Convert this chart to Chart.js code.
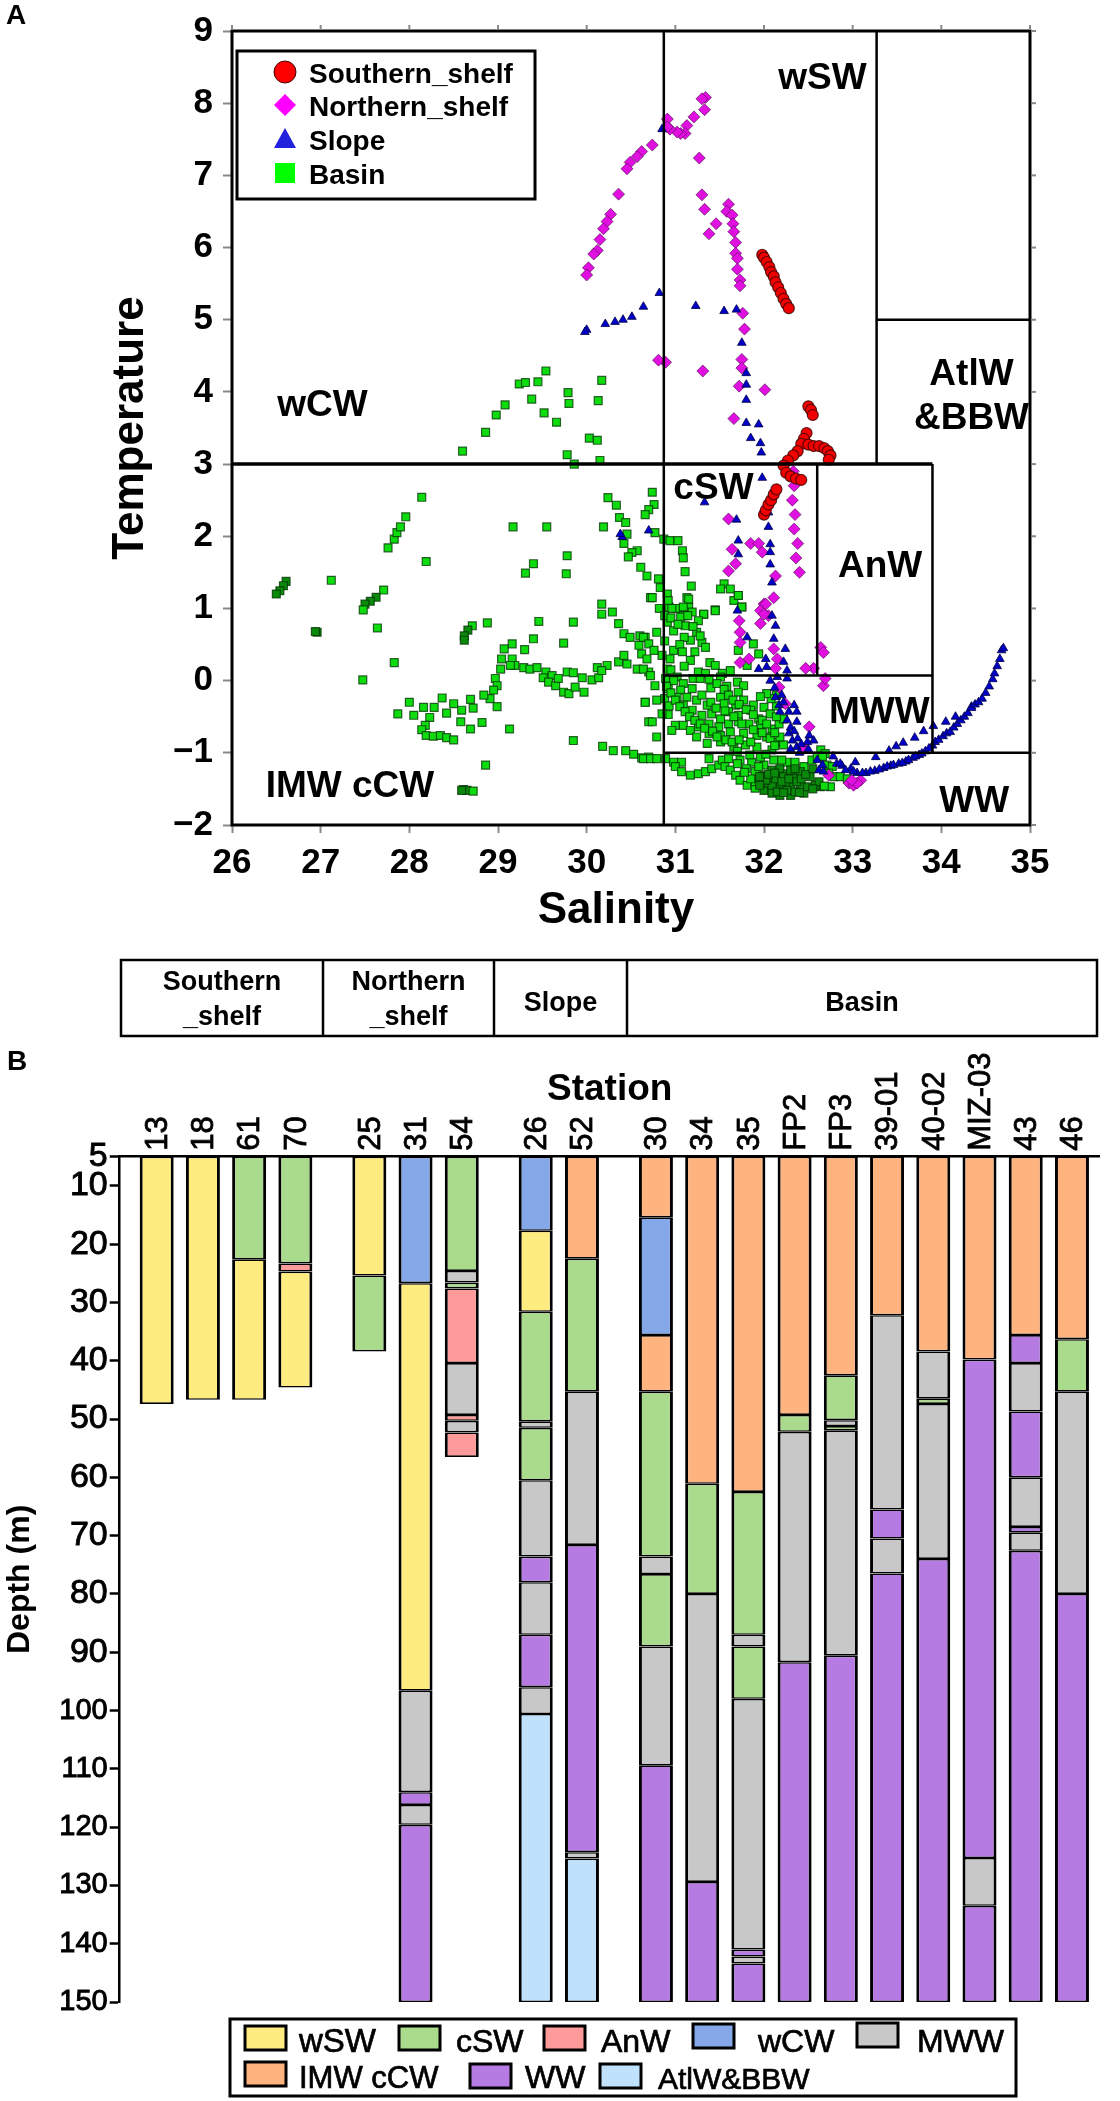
<!DOCTYPE html>
<html><head><meta charset="utf-8">
<script src="https://cdn.jsdelivr.net/npm/chart.js@4"></script>
<style>html,body{margin:0;padding:0;background:#fff}canvas{position:absolute;left:0}#c1{top:0}#c2{top:945px}</style>
</head><body>
<canvas id="c1" width="1120" height="945"></canvas>
<canvas id="c2" width="1120" height="1156"></canvas>
<script>
// ---------- Panel A : T-S data, [salinity, temperature] ----------
const southernShelf=[[31.98,5.9],[32.0,5.86],[32.03,5.8],[32.06,5.73],[32.08,5.66],[32.11,5.6],[32.13,5.52],[32.16,5.45],[32.19,5.37],[32.22,5.29],[32.25,5.22],[32.28,5.16],
[32.5,3.8],[32.53,3.75],[32.55,3.68],[32.48,3.43],[32.45,3.35],[32.42,3.28],[32.38,3.18],[32.33,3.12],[32.27,3.05],[32.22,2.98],
[32.5,3.27],[32.56,3.25],[32.62,3.25],[32.68,3.22],[32.72,3.18],[32.75,3.12],[32.73,3.06],[32.25,2.88],[32.3,2.83],[32.36,2.8],[32.42,2.78],
[32.0,2.3],[32.02,2.36],[32.05,2.44],[32.08,2.5],[32.11,2.58],[32.14,2.65]];
const northernShelf=[[31.34,8.08],[31.30,8.06],[31.33,7.91],[31.21,7.81],[31.13,7.69],[31.11,7.58],[31.06,7.58],[31.02,7.60],[30.94,7.64],[30.91,7.78],[30.91,7.67],
[30.74,7.42],[30.62,7.33],[30.57,7.26],[30.49,7.18],[30.455,7.09],[30.36,6.74],[30.27,6.46],[30.23,6.36],[30.19,6.26],[30.15,6.11],[30.12,5.96],[30.08,5.91],[30.02,5.72],[30.0,5.62],
[31.27,7.24],[31.30,6.73],[31.33,6.53],[31.46,6.33],[31.38,6.19],[31.60,6.6],[31.58,6.5],[31.64,6.45],[31.65,6.33],[31.66,6.22],[31.68,6.07],[31.68,5.92],[31.70,5.85],[31.70,5.70],[31.73,5.55],[31.73,5.47],[31.76,5.09],[31.78,4.87],
[31.75,4.45],[30.89,4.41],[30.81,4.44],[31.31,4.29],[31.75,4.33],[31.72,4.08],[32.01,4.03],[31.66,3.63],
[32.33,2.9],[32.34,2.7],[32.32,2.5],[32.35,2.3],[32.34,2.1],[32.38,1.9],[32.36,1.7],[32.4,1.5],
[31.60,2.24],[31.64,1.82],[31.60,1.52],[31.68,1.62],[31.85,1.90],[31.94,1.90],[31.98,1.78],[32.13,1.45],[32.11,1.15],[32.0,1.06],[31.96,0.97],[32.05,0.9],
[32.02,1.06],[32.0,0.92],[31.96,0.79],[31.72,0.83],[31.73,0.67],[31.73,0.53],[32.11,0.44],[32.15,0.30],[32.13,0.17],[31.83,0.30],[31.73,0.25],
[32.64,0.46],[32.67,0.39],[32.56,0.17],[32.47,0.17],[32.67,-0.07],[32.69,0.03],[32.17,-0.09],[32.24,-0.32],[32.51,-0.64],[32.45,-0.94],[32.73,-1.31],[32.96,-1.42],[33.01,-1.45],[33.09,-1.38],[33.05,-1.42],[32.99,-1.38]];
const slope=[[30.82,5.37],[30.64,5.18],[30.51,5.04],[30.41,5.0],[30.32,4.97],[30.21,4.94],[30.0,4.86],[29.98,4.83],[31.23,5.19],[31.55,5.12],[31.69,5.14],[30.85,7.64],
[31.75,4.68],[31.80,4.26],[31.80,4.10],[31.80,3.89],[31.80,3.57],[31.94,3.55],[31.85,3.36],[31.96,3.29],[31.97,3.16],[31.98,2.81],[31.33,2.47],[31.69,2.23],[32.05,2.33],[32.05,2.13],[31.71,1.94],[32.07,1.89],[32.07,1.78],[31.71,1.75],[32.07,1.61],[32.09,1.36],[30.70,2.08],[30.40,1.99],[30.38,2.03],
[31.70,0.97],[32.09,0.90],[32.13,0.76],[32.11,0.58],[31.81,0.60],[32.24,0.44],[32.02,0.30],[32.22,0.26],[32.26,0.14],[32.03,0.19],[31.94,0.16],[32.15,0.05],[32.26,0.03],[32.07,0],[32.13,-0.23],[32.17,-0.34],[32.18,-0.43],[32.34,-0.34],[32.37,-0.43],[32.28,-0.43],[32.37,-0.57],[32.28,-0.73],[32.32,-0.83],[32.37,-0.92],[32.51,-0.76],[32.56,-0.83],[32.49,-0.85],[32.66,-1.17],[32.62,-1.24],[32.67,-1.26],
[32.12,-0.1],[32.2,-0.2],[32.22,-0.3],[32.26,-0.55],[32.3,-0.65],[32.34,-0.7],[32.38,-0.8],[32.42,-0.88],[32.3,-0.95],[32.4,-1.0],[32.5,-0.95],[32.6,-1.1],[32.78,-1.05],[32.82,-1.15],[32.88,-1.18],[32.98,-1.22],[33.05,-1.28],[33.15,-1.28],[33.25,-1.25],[33.35,-1.21],[33.43,-1.18],[33.52,-1.15],[33.6,-1.12],[33.68,-1.07],[33.75,-1.03],[33.82,-0.98],[33.9,-0.9],
[32.86,-1.15],[32.92,-1.24],[33.01,-1.26],[33.03,-1.13],[33.26,-1.06],[33.41,-0.97],[33.49,-0.91],[33.57,-0.86],[33.70,-0.79],[33.80,-0.70],[33.91,-0.63],[34.05,-0.57],[34.16,-0.50],[34.34,-0.36],
[33.11,-1.28],[33.20,-1.26],[33.30,-1.23],[33.39,-1.19],[33.46,-1.17],[33.56,-1.14],[33.63,-1.10],[33.71,-1.05],[33.78,-1.01],[33.86,-0.94],[33.93,-0.85],[33.97,-0.82],[34.02,-0.77],[34.06,-0.73],[34.10,-0.71],[34.14,-0.65],[34.18,-0.6],[34.22,-0.55],[34.26,-0.50],[34.3,-0.45],[34.34,-0.38],[34.38,-0.33],[34.42,-0.30],[34.46,-0.25],[34.5,-0.17],[34.54,-0.08],[34.58,0.02],[34.6,0.1],[34.63,0.2],[34.66,0.3],[34.68,0.42],[34.7,0.45]];
const basin=[[26.61,1.375],[26.58,1.315],[26.54,1.245],[26.50,1.20],[27.12,1.39],[27.71,1.255],[27.625,1.155],[27.56,1.10],[27.50,1.06],[27.48,0.98],[28.19,1.65],[27.76,1.84],[27.83,1.96],[27.86,2.05],[27.90,2.13],[27.96,2.27],[28.14,2.54],[28.60,3.18],[28.86,3.44],[28.98,3.68],
[29.08,3.82],[29.24,4.11],[29.31,4.13],[29.45,4.14],[29.54,4.29],[29.38,3.90],[29.79,3.99],[29.80,3.84],[29.52,3.71],[29.66,3.58],[30.17,4.16],[30.13,3.88],[30.03,3.36],[30.12,3.33],[29.78,3.13],[29.86,3.0],[30.15,3.05],
[30.74,2.61],[30.24,2.535],[30.335,2.43],[30.76,2.44],[30.70,2.37],[30.66,2.30],[30.37,2.26],[30.44,2.19],[29.17,2.13],[29.55,2.13],[30.19,2.13],[30.455,2.03],[30.42,1.90],[30.77,2.05],[30.87,1.96],[30.94,1.94],[31.03,1.94],[31.08,1.80],[31.09,1.70],[30.57,1.80],[30.51,1.775],[30.47,1.715],[29.78,1.73],[29.40,1.62],[29.31,1.49],[29.77,1.48],[30.61,1.57],[30.68,1.45],[31.11,1.51],[30.81,1.41],[30.83,1.29],[31.18,1.31],[30.72,1.15],[30.91,1.2],[31.13,1.15],[31.55,1.34],[31.51,1.27],[31.62,1.27],[31.71,1.18],[31.66,1.11],[31.75,1.02],[30.93,1.02],[31.02,1.0],[31.15,1.02],[31.45,0.98],[31.32,0.92],[30.17,1.06],[30.17,0.92],[30.29,0.95],[31.09,0.90],
[26.96,0.67],[26.94,0.68],[27.64,0.73],[27.83,0.25],[27.475,0.01],[28.71,0.76],[28.66,0.70],[28.62,0.62],[28.62,0.56],[28.88,0.80],[29.46,0.82],[29.85,0.81],[29.40,0.58],[29.74,0.52],[29.30,0.43],[29.16,0.51],[29.07,0.44],[29.04,0.30],[29.16,0.30],[29.19,0.21],[29.14,0.21],[29.03,0.16],[28.97,0.03],[28.99,-0.07],[28.95,-0.13],[28.91,-0.25],[28.84,-0.20],[28.99,-0.36],[29.29,0.18],[29.36,0.16],[29.44,0.18],[29.54,0.12],[29.51,0.04],[29.61,0.07],[29.57,-0.02],[29.65,-0.07],[29.68,0.03],[29.74,-0.16],[29.80,-0.18],[29.87,-0.09],[29.97,-0.16],[29.78,0.12],[29.85,0.11],[29.95,0.04],[30.06,0.01],[30.135,0.04],[30.12,0.18],[30.23,0.21],[30.17,0.14],[30.36,0.26],[30.42,0.35],[30.455,0.23],[30.57,0.16],[30.70,0.12],[30.42,0.65],[30.49,0.60],[30.60,0.62],[30.66,0.60],[30.59,0.49],[30.62,0.37],[30.36,0.79],[30.66,-0.30],[30.70,-0.57],
[27.87,-0.46],[28.0,-0.30],[28.05,-0.48],[28.16,-0.37],[28.28,-0.37],[28.23,-0.51],[28.37,-0.24],[28.42,-0.45],[28.50,-0.32],[28.59,-0.41],[28.69,-0.26],[28.72,-0.38],[28.82,-0.58],[28.58,-0.57],[28.69,-0.67],[29.13,-0.67],[28.18,-0.62],[28.14,-0.68],[28.19,-0.76],[28.27,-0.77],[28.35,-0.76],[28.42,-0.79],[28.50,-0.82],
[29.85,-0.83],[30.18,-0.91],[30.30,-0.97],[30.44,-0.97],[30.53,-1.02],[30.62,-1.07],[30.70,-1.06],[28.86,-1.17],[28.61,-1.51],[28.65,-1.52],[28.72,-1.53],[28.59,-1.52],
[30.74,1.15],[30.92,1.11],[31.15,1.13],[30.96,1.0],[31.09,1.02],[31.19,0.95],[31.06,0.88],[31.32,0.92],[31.45,0.97],[31.26,0.83],[30.91,0.81],[31.11,0.76],[31.24,0.67],[30.98,0.69],[31.17,0.56],[31.30,0.53],[31.34,0.46],[30.98,0.42],[30.94,0.30],[30.91,0.16],[31.17,0.28],[31.39,0.25],[31.45,0.21],[31.26,0.12],[31.34,0.10],[31.62,0.14],[31.53,0.10],[31.71,1.18],[31.75,1.02],[31.71,0.42],[31.88,0.51],[31.94,0.37],[31.81,0.21],
[30.82,1.0],[30.88,0.9],[30.95,0.87],[31.03,0.78],[31.14,0.9],[31.2,0.75],[31.28,0.62],[31.1,0.6],[31.05,0.5],[30.88,0.55],[30.85,0.35],[30.95,0.15],[31.08,0.4],[31.22,0.4],[31.1,0.2],[31.02,0.05],[31.2,0.03],[31.4,-0.1],[31.38,0.02],[31.58,-0.08],[30.88,-0.25],[30.93,-0.35],
[30.64,0.60],[30.70,0.51],[30.76,0.42],[30.68,0.30],[30.79,0.67],[30.64,0.16],[30.72,0.07],[30.77,-0.07],[30.66,-0.30],[30.79,-0.27],[30.74,-0.57],[30.79,-0.78],[30.92,-0.47],[30.85,-0.46],
[30.89,0.03],[30.98,0],[31.09,-0.04],[30.92,-0.11],[31.06,-0.13],[31.19,-0.11],[31.28,0.03],[31.51,0.05],[31.70,-0.02],[31.77,-0.07],[31.71,-0.16],[31.47,-0.04],[31.02,-0.23],[31.13,-0.23],[31.24,-0.27],[31.36,-0.34],[31.51,-0.23],[31.55,-0.32],[31.68,-0.34],[31.77,-0.27],[31.88,-0.34],[32.0,-0.37],[31.09,-0.34],[31.19,-0.41],[31.30,-0.48],[31.41,-0.46],[31.51,-0.53],[31.60,-0.43],[31.71,-0.48],[31.85,-0.41],[31.94,-0.53],[32.07,-0.46],[31.38,-0.60],[31.49,-0.64],[31.60,-0.60],[31.71,-0.57],[31.83,-0.60],[31.96,-0.62],[32.09,-0.67],[32.17,-0.60],[31.26,-0.64],[31.38,-0.73],[31.51,-0.76],[31.62,-0.71],[31.77,-0.73],[31.92,-0.76],[32.03,-0.78],[32.15,-0.85],[32.22,-0.89],[31.66,-0.92],[31.79,-0.89],[31.92,-0.92],[32.09,-0.96],[31.0,-0.62],[31.09,-0.62],[30.96,-0.69],[31.17,-0.69],[31.24,-0.78],[31.36,-0.87],[31.51,-0.85],[32.22,-0.53],[32.18,-0.78],
[30.9,-0.08],[30.95,-0.17],[31.0,-0.27],[31.05,-0.36],[31.11,-0.43],[31.16,-0.5],[31.22,-0.55],[31.28,-0.6],[31.33,-0.66],[31.42,-0.7],[31.47,-0.78],[31.57,-0.82],[31.64,-0.85],[31.72,-0.82],[31.85,-0.85],
[31.3,-0.2],[31.4,-0.3],[31.46,-0.38],[31.56,-0.42],[31.66,-0.5],[31.75,-0.6],[31.88,-0.68],[31.98,-0.72],[32.07,-0.8],[32.12,-0.9],
[31.55,-0.12],[31.6,-0.2],[31.65,-0.27],[31.72,-0.33],[31.8,-0.4],[31.88,-0.47],[31.98,-0.55],[32.03,-0.6],[32.12,-0.72],[32.14,-0.5],[32.14,-0.35],[32.14,-0.2],[32.08,-0.25],[32.03,-0.18],[31.96,-0.22],
[30.64,-1.08],[30.72,-1.08],[30.79,-1.08],[30.89,-1.08],[30.98,-1.13],[31.07,-1.13],[31.0,-1.19],[31.07,-1.26],[31.17,-1.31],[31.26,-1.29],[31.34,-1.26],[31.41,-1.22],[31.49,-1.17],[31.38,-1.08],[31.53,-1.10],[31.60,-1.08],[31.56,-1.19],[31.62,-1.24],[31.68,-1.31],[31.73,-1.38],[31.81,-1.45],[31.90,-1.49],[32.0,-1.52],[32.09,-1.56],[32.18,-1.59],[32.30,-1.59],[32.45,-1.56],[31.73,-1.10],[31.86,-1.13],[32.0,-1.17],[32.09,-1.24],[32.17,-1.33],[32.05,-1.42],[31.90,-1.26],[32.0,-1.31],[31.90,-1.40],[32.18,-1.22],[32.26,-1.13],[32.35,-1.13],[32.45,-1.19],[32.52,-1.33],[32.64,-1.47],[32.75,-1.47],[32.79,-1.33],[32.71,-1.17],[32.64,-0.96],[32.54,-1.10],[32.69,-1.01],[32.77,-1.19],[32.86,-1.33],[32.94,-1.36],[32.41,-1.45],[32.30,-1.47],[32.24,-1.42],[32.34,-1.33],[32.49,-1.47],[32.58,-1.45],[32.18,-1.47],[32.09,-1.45],[32.26,-1.29],[32.41,-1.26],[32.11,-1.10],[31.96,-1.06],[32.26,-1.52],[32.35,-1.54],[32.15,-1.54],[32.22,-1.33],[32.37,-1.40],[32.13,-1.36],[32.30,-1.24],[31.94,-1.19],[32.02,-1.38],
[31.7,-1.15],[31.8,-1.22],[31.95,-1.33],[32.05,-1.3],[32.12,-1.28],[32.2,-1.4],[32.28,-1.36],[32.42,-1.36],[32.47,-1.3],[32.55,-1.22],[32.6,-1.05],[32.66,-1.05],[32.73,-1.28],[32.62,-1.4],[32.68,-1.46],[32.55,-1.5],[32.4,-1.55],[32.22,-1.55],[31.95,-1.45],[31.85,-1.36],[31.78,-1.27],[32.2,-1.1],[32.35,-1.22],[32.02,-1.02],[31.84,-1.03],[31.7,-0.98]];
// water-mass boundaries (salinity, temperature)
const regionLines=[[[30.87,-2],[30.87,9]],[[26,3],[33.9,3]],[[33.27,9],[33.27,3]],[[33.27,5],[35,5]],[[32.6,3],[32.6,0.07]],[[30.87,0.07],[33.9,0.07]],[[33.9,3],[33.9,-1]],[[30.87,-1],[35,-1]]];
const regionLabels=[['wSW',32.66,8.19],['AtlW',34.34,4.09],['&BBW',34.34,3.49],['wCW',27.02,3.66],['cSW',31.43,2.52],['AnW',33.31,1.44],['MWW',33.3,-0.58],['IMW cCW',27.33,-1.61],['WW',34.37,-1.82]];
const salinityTicks=[26,27,28,29,30,31,32,33,34,35];
const temperatureTicks=[-2,-1,0,1,2,3,4,5,6,7,8,9];
// ---------- Panel B : water-mass layers, [station, top depth, bottom depth] ----------
const stationGroups=[['13','18','61','70'],['25','31','54'],['26','52'],['30','34','35','FP2','FP3','39-01','40-02','MIZ-03','43','46']];
const groupNames=['Southern\n_shelf','Northern\n_shelf','Slope','Basin'];
const depthTicks=[5,10,20,30,40,50,60,70,80,90,100,110,120,130,140,150];
const wSW=[['13',5,47.4],['18',5,46.7],['61',22.6,46.7],['70',24.7,44.6],['25',5,25.4],['31',26.7,96.6],['26',17.7,31.6]];
const cSW=[['61',5,22.6],['70',5,23.3],['25',25.4,38.4],['54',5,24.6],['54',26.6,27.6],['26',31.6,50.4],['26',51.5,60.5],['52',22.5,45.3],['30',45.3,73.6],['30',76.6,89],['34',61.1,80],['35',62.5,87],['35',89,98],['FP2',49.3,52.2],['FP3',42.5,50.2],['FP3',51.2,52],['40-02',46.5,47.4],['46',36.3,45.3]];
const AnW=[['70',23.3,24.7],['54',27.6,40.4],['54',49.3,50.3],['54',52.3,56.5]];
const wCW=[['31',5,26.7],['26',5,17.7],['30',15.4,35.6]];
const MWW=[['31',96.6,114],['31',116.2,119.6],['54',24.6,26.6],['54',40.4,49.3],['54',50.3,52.3],['26',50.4,51.5],['26',60.5,73.6],['26',78,87],['26',96,100.6],['52',45.3,71.6],['52',124.3,125.4],['30',73.6,76.6],['30',89,109.4],['34',80,129.4],['35',87,89],['35',98,141],['35',142.2,143.4],['FP2',52.2,91.7],['FP3',50.2,51.2],['FP3',52,90.6],['39-01',32.2,65.5],['39-01',70.5,76.5],['40-02',38.4,46.5],['40-02',47.4,74],['MIZ-03',125.3,133.5],['43',40.4,48.7],['43',60,68.5],['43',69.5,72.6],['46',45.3,80]];
const IMWcCW=[['52',5,22.5],['30',5,15.4],['30',35.6,45.3],['34',5,61.1],['35',5,62.5],['FP2',5,49.3],['FP3',5,42.5],['39-01',5,32.2],['40-02',5,38.4],['MIZ-03',5,39.8],['43',5,35.6],['46',5,36.3]];
const WW=[['31',114,116.2],['31',119.6,150],['26',73.6,78],['26',87,96],['52',71.6,124.3],['30',109.4,150],['34',129.4,150],['35',141,142.2],['35',143.4,150],['FP2',91.7,150],['FP3',90.6,150],['39-01',65.5,70.5],['39-01',76.5,150],['40-02',74,150],['MIZ-03',39.8,125.3],['MIZ-03',133.5,150],['43',35.6,40.4],['43',48.7,60],['43',68.5,69.5],['43',72.6,150],['46',80,150]];
const AtlWBBW=[['26',100.6,150],['52',125.4,150]];

const FF='"Liberation Sans", Arial, sans-serif';
const pts=a=>a.map(([x,y])=>({x,y}));
const txt=(ctx,s,x,y,font,align,stroke)=>{ctx.font=font;ctx.textAlign=align||'left';ctx.textBaseline='alphabetic';ctx.fillStyle='#000';ctx.fillText(s,x,y);
  if(stroke){ctx.strokeStyle='#000';ctx.lineWidth=stroke;ctx.strokeText(s,x,y);}};
// salinity/temperature ranges where the Basin marks pile up and read darker
const denseZones=[[31.95,32.65,-1.62,-1.2],[26.45,26.65,1.15,1.4],[26.9,27,0.6,0.72],[27.5,27.65,1.0,1.2],[28.55,28.68,0.5,0.72],[28.55,28.68,-1.56,-1.48]];
const basinFill=ctx=>{const r=ctx.raw;return r&&denseZones.some(z=>r.x>=z[0]&&r.x<=z[1]&&r.y>=z[2]&&r.y<=z[3])?'#0a8a0a':'#0fdc0f';};

const panelA={id:'panelA',afterDraw(ch){
  const c=ch.ctx,a=ch.chartArea,xs=ch.scales.x,ys=ch.scales.y;
  c.save();
  c.strokeStyle='#000';c.lineWidth=3;c.strokeRect(a.left,a.top,a.right-a.left,a.bottom-a.top);
  c.strokeStyle='#888';c.lineWidth=2;
  salinityTicks.forEach(v=>{const p=xs.getPixelForValue(v);c.beginPath();c.moveTo(p,a.top-1);c.lineTo(p,a.top-6);c.stroke();});
  temperatureTicks.forEach(v=>{const p=ys.getPixelForValue(v);c.beginPath();c.moveTo(a.right+1,p);c.lineTo(a.right+6,p);c.stroke();});
  regionLabels.forEach(([s,x,y])=>txt(c,s,xs.getPixelForValue(x),ys.getPixelForValue(y),'bold 37px '+FF,'center'));
  txt(c,'Salinity',616,923,'bold 44px '+FF,'center');
  txt(c,'A',6,24,'bold 28px '+FF);
  c.lineWidth=3;c.strokeStyle='#000';c.fillStyle='#fff';c.fillRect(237,51,298,148);c.strokeRect(237,51,298,148);
  const mx=285,f='bold 28px '+FF;
  c.lineWidth=1;c.strokeStyle='#400';
  c.fillStyle='#f00';c.beginPath();c.arc(mx,72,11,0,7);c.fill();c.stroke();
  c.fillStyle='#f0f';c.beginPath();c.moveTo(mx,94);c.lineTo(mx+11,105);c.lineTo(mx,116);c.lineTo(mx-11,105);c.closePath();c.fill();
  c.fillStyle='#2222dd';c.beginPath();c.moveTo(mx,128);c.lineTo(mx+11,148);c.lineTo(mx-11,148);c.closePath();c.fill();
  c.fillStyle='#0f0';c.fillRect(mx-10,163,20,20);
  txt(c,'Southern_shelf',309,83,f);txt(c,'Northern_shelf',309,116,f);txt(c,'Slope',309,150,f);txt(c,'Basin',309,184,f);
  c.restore();
}};

const layerColors={wSW:'#FFEC80',cSW:'#AADA8C',AnW:'#FF9A9A',wCW:'#85A9E8',MWW:'#C8C8C8',IMW:'#FFB37F',WW:'#B57BE2',Atl:'#BFE1FB'};
const panelB={id:'panelB',afterDraw(ch){
  const c=ch.ctx,o=945;
  c.save();
  txt(c,'B',7,1070-o,'bold 28px '+FF);
  const edges=[121,323,494,627,1097],top=960-o,bot=1036-o;
  c.strokeStyle='#000';c.lineWidth=2.5;
  c.strokeRect(edges[0],top,edges[4]-edges[0],bot-top);
  edges.slice(1,4).forEach(e=>{c.beginPath();c.moveTo(e,top);c.lineTo(e,bot);c.stroke();});
  const f='bold 27px '+FF;
  groupNames.forEach((n,i)=>{const m=(edges[i]+edges[i+1])/2,l=n.split('\n');
    if(l.length===2){txt(c,l[0],m,990-o,f,'center');txt(c,l[1],m,1025-o,f,'center');}
    else txt(c,n,m,1011-o,f,'center');});
  c.strokeStyle='#000';c.lineWidth=3;c.strokeRect(230,2019-o,786,77);
  [['wSW',layerColors.wSW,245,2026,299,2052,33],['cSW',layerColors.cSW,399,2026,456,2052,32],['AnW',layerColors.AnW,544,2026,601,2052,32],['wCW',layerColors.wCW,693,2024,758,2052,32],['MWW',layerColors.MWW,857,2023,917,2052,32],
   ['IMW cCW',layerColors.IMW,245,2062,299,2088,31],['WW',layerColors.WW,470,2064,525,2088,32],['AtlW&BBW',layerColors.Atl,600,2064,658,2089,30]].forEach(([s,col,sx,sy,tx,ty,fs])=>{
    c.fillStyle=col;c.fillRect(sx,sy-o,41,24);c.strokeStyle='#000';c.lineWidth=3;c.strokeRect(sx,sy-o,41,24);
    txt(c,s,tx,ty-o,fs+'px '+FF,'left',0.7);});
  c.restore();
}};

new Chart(document.getElementById('c1'),{type:'scatter',
  data:{datasets:[
    ...regionLines.map((l,i)=>({label:'boundary',data:pts(l),showLine:true,borderColor:'#000',borderWidth:i===1?3.5:2.5,pointRadius:0,order:0})),
    {label:'Southern_shelf',data:pts(southernShelf),pointStyle:'circle',pointRadius:5.5,backgroundColor:'#f00000',borderColor:'rgba(60,0,0,.8)',borderWidth:1.2,order:1},
    {label:'Slope',data:pts(slope),pointStyle:'triangle',pointRadius:5,backgroundColor:'#0000c8',borderColor:'rgba(0,0,70,.8)',borderWidth:1,order:2},
    {label:'Northern_shelf',data:pts(northernShelf),pointStyle:'rectRot',pointRadius:6,backgroundColor:'#e010e0',borderColor:'rgba(60,0,60,.55)',borderWidth:1,order:3},
    {label:'Basin',data:pts(basin),pointStyle:'rect',pointRadius:5.6,backgroundColor:basinFill,borderColor:'rgba(0,50,0,.75)',borderWidth:1.2,order:4}
  ]},
  plugins:[panelA],
  options:{responsive:false,animation:false,devicePixelRatio:1,
    layout:{padding:{top:28,right:90,bottom:32,left:0}},
    plugins:{legend:{display:false},tooltip:{enabled:false}},
    scales:{
      x:{type:'linear',min:26,max:35,afterFit(s){s.height=88;},afterBuildTicks(s){s.ticks=salinityTicks.map(value=>({value}));},
        border:{display:false},grid:{display:true,drawOnChartArea:false,tickColor:'#888',tickWidth:2,tickLength:8},
        ticks:{color:'#000',font:{family:FF,size:35,weight:'bold'},padding:9,maxRotation:0,autoSkip:false}},
      y:{type:'linear',min:-2,max:9,afterFit(s){s.width=232;},afterBuildTicks(s){s.ticks=temperatureTicks.map(value=>({value}));},
        border:{display:false},grid:{display:true,drawOnChartArea:false,tickColor:'#888',tickWidth:2,tickLength:9},
        title:{display:true,text:'Temperature',color:'#000',font:{family:FF,size:44,weight:'bold'},padding:{top:104,bottom:0}},
        ticks:{color:'#000',font:{family:FF,size:35,weight:'bold'},padding:10,autoSkip:false,callback:v=>String(v).replace('-','\u2212')}}
    }}
});

// category grid: blank labels make the spacing inside and between station groups
const categories=[];
const blanks=n=>{for(let i=0;i<n;i++)categories.push('');};
blanks(4);
stationGroups.forEach((g,gi)=>{g.forEach((s,si)=>{categories.push(s);if(si<g.length-1)blanks(4);});if(gi<stationGroups.length-1)blanks(7);});
blanks(3);
const layer=(label,arr,col)=>({label,data:arr.map(([x,a,b])=>({x,y:[a,b]})),backgroundColor:col,borderColor:'#000',
  borderWidth:{left:3,right:3,top:1.6,bottom:1.6},borderSkipped:false,grouped:false,barPercentage:4,categoryPercentage:1,maxBarThickness:34});

new Chart(document.getElementById('c2'),{type:'bar',
  data:{labels:categories,datasets:[
    layer('wSW',wSW,layerColors.wSW),layer('cSW',cSW,layerColors.cSW),layer('AnW',AnW,layerColors.AnW),layer('wCW',wCW,layerColors.wCW),
    layer('MWW',MWW,layerColors.MWW),layer('IMW cCW',IMWcCW,layerColors.IMW),layer('WW',WW,layerColors.WW),layer('AtlW&BBW',AtlWBBW,layerColors.Atl)]},
  plugins:[panelB],
  options:{responsive:false,animation:false,devicePixelRatio:1,
    layout:{padding:{top:90,right:20.3,bottom:99,left:0}},
    plugins:{legend:{display:false},tooltip:{enabled:false}},
    scales:{
      x:{type:'category',position:'top',offset:false,afterFit(s){s.height=121.7;},
        border:{display:true,color:'#000',width:2.5},grid:{display:false,drawTicks:false},
        title:{display:true,text:'Station',color:'#000',font:{family:FF,size:37,weight:'bold'},padding:{top:32.8,bottom:0}},
        ticks:{color:'#000',font:{family:FF,size:31},textStrokeColor:'#000',textStrokeWidth:0.8,padding:6,labelOffset:39,minRotation:90,maxRotation:90,autoSkip:false,
          callback(v){return categories[v];}}},
      y:{type:'linear',reverse:true,min:5,max:150,afterFit(s){s.width=119.7;},afterBuildTicks(s){s.ticks=depthTicks.map(value=>({value}));},
        border:{display:true,color:'#000',width:2.5},grid:{display:true,drawOnChartArea:false,color:'#000',tickColor:'#000',tickWidth:2.5,tickLength:10},
        title:{display:true,text:'Depth (m)',color:'#000',font:{family:FF,size:32,weight:'bold'},padding:{top:1,bottom:0}},
        ticks:{color:'#000',textStrokeColor:'#000',textStrokeWidth:0.9,padding:2,autoSkip:false,font(ctx){return {family:FF,size:ctx.tick&&ctx.tick.value>=100?29:34};}}}
    }}
});
</script>
</body></html>
